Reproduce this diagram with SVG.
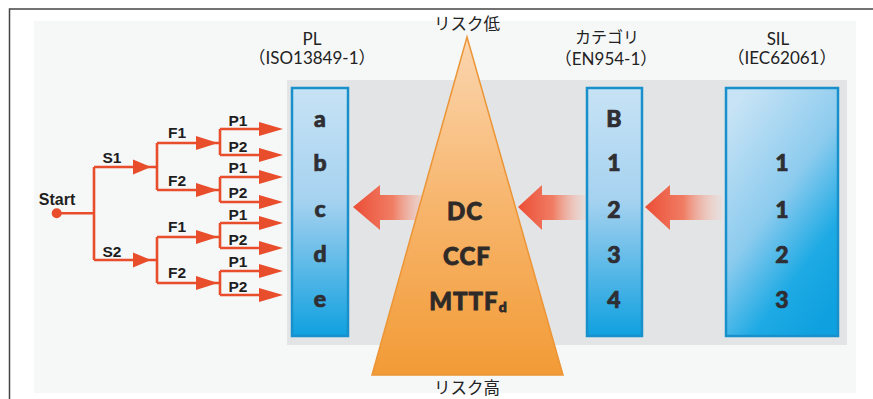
<svg xmlns="http://www.w3.org/2000/svg" xmlns:xlink="http://www.w3.org/1999/xlink" width="873" height="399" viewBox="0 0 873 399">
<style>
.hdr{font-family:"Lato","Noto Sans CJK JP",sans-serif;font-size:17px;fill:#222;text-anchor:middle}
.jp{font-family:"Noto Sans CJK JP",sans-serif;font-size:16.5px;fill:#222;text-anchor:middle}
.col{font-family:"Lato","Open Sans",sans-serif;font-weight:900;font-size:23px;fill:#2e2e33;stroke:#2e2e33;stroke-width:0.7;text-anchor:middle}
.tri{font-family:"Lato","Open Sans",sans-serif;font-weight:900;font-size:24px;letter-spacing:1px;fill:#2e2a28;stroke:#2e2a28;stroke-width:0.8;text-anchor:middle}
.lbl{font-family:"Liberation Sans",Arial,sans-serif;font-weight:bold;font-size:15.5px;fill:#1e1e1e;text-anchor:middle}
.ln{fill:none;stroke:#e84d2c;stroke-width:2.6}
.ah{fill:#e84d2c}
.box{stroke:#1890cb;stroke-width:2.5}
</style>
<defs>
<linearGradient id="gBlue" x1="0" y1="0" x2="0" y2="1">
<stop offset="0" stop-color="#c7e3f5"/>
<stop offset="0.45" stop-color="#a6d2f0"/>
<stop offset="1" stop-color="#10a0df"/>
</linearGradient>
<linearGradient id="gBlueD" x1="0.2" y1="0" x2="0.8" y2="1">
<stop offset="0" stop-color="#c7e3f5"/>
<stop offset="0.45" stop-color="#8ccbee"/>
<stop offset="0.75" stop-color="#1eaae4"/>
<stop offset="1" stop-color="#0ea0df"/>
</linearGradient>
<linearGradient id="gTri" x1="0" y1="0" x2="0" y2="1">
<stop offset="0" stop-color="#fbd6b0"/>
<stop offset="0.5" stop-color="#f7b56c"/>
<stop offset="1" stop-color="#f29b36"/>
</linearGradient>
<linearGradient id="gArr" x1="0" y1="0" x2="1" y2="0">
<stop offset="0" stop-color="#ec4d36"/>
<stop offset="0.5" stop-color="#f07d64"/>
<stop offset="1" stop-color="#f6cdbf" stop-opacity="0.2"/>
</linearGradient>
<path id="ahS" d="M0,0 L-18,-7.5 L-18,7.5 Z"/>
<path id="ahF" d="M0,0 L-22,-7 L-22,7 Z"/>
<path id="ahP" d="M0,0 L-24,-7 L-24,7 Z"/>
</defs>

<!-- frame and backgrounds -->
<path d="M9.5,399 V9 H873" fill="none" stroke="#444" stroke-width="1.5"/>
<rect x="34" y="21" width="822" height="372" fill="#f6f7f7"/>
<rect x="287" y="80" width="560" height="265" fill="#e2e4e6"/>

<g id="connectors">
<!-- big arrows -->
<polygon points="353,207 380,185 380,195 432,195 432,220 380,220 380,230" fill="url(#gArr)"/>
<polygon points="518,207 542,185 542,195 588,195 588,220 542,220 542,230" fill="url(#gArr)"/>
<polygon points="645,207 670,185 670,195 722,195 722,220 670,220 670,230" fill="url(#gArr)"/>

<!-- decision tree -->
<g id="tree">
<circle cx="56.7" cy="213.3" r="5" fill="#e84d2c"/>
<path class="ln" d="M57,213.3 H94 M94,167 V260 M94,167 H157 M94,260 H157"/>
<use href="#ahS" class="ah" x="151" y="167"/>
<use href="#ahS" class="ah" x="151" y="260"/>
<path class="ln" d="M157,143 V190 M157,143 H220 M157,190 H220 M157,237 V283 M157,237 H220 M157,283 H220"/>
<use href="#ahF" class="ah" x="218" y="143"/>
<use href="#ahF" class="ah" x="218" y="190"/>
<use href="#ahF" class="ah" x="218" y="237"/>
<use href="#ahF" class="ah" x="218" y="283"/>
<path class="ln" d="M220,129 V155 M220,129 H262 M220,155 H262 M220,177 V202 M220,177 H262 M220,202 H262 M220,223 V248 M220,223 H262 M220,248 H262 M220,271 V295 M220,271 H262 M220,295 H262"/>
<use href="#ahP" class="ah" x="283" y="129"/>
<use href="#ahP" class="ah" x="283" y="155"/>
<use href="#ahP" class="ah" x="283" y="177"/>
<use href="#ahP" class="ah" x="283" y="202"/>
<use href="#ahP" class="ah" x="283" y="223"/>
<use href="#ahP" class="ah" x="283" y="248"/>
<use href="#ahP" class="ah" x="283" y="271"/>
<use href="#ahP" class="ah" x="283" y="295"/>
<text class="lbl" x="57" y="205" style="font-size:16px">Start</text>
<text class="lbl" x="112" y="163">S1</text>
<text class="lbl" x="112" y="257">S2</text>
<text class="lbl" x="177" y="138">F1</text>
<text class="lbl" x="177" y="186">F2</text>
<text class="lbl" x="177" y="232">F1</text>
<text class="lbl" x="177" y="278">F2</text>
<text class="lbl" x="238" y="126">P1</text>
<text class="lbl" x="238" y="152">P2</text>
<text class="lbl" x="238" y="173">P1</text>
<text class="lbl" x="238" y="198">P2</text>
<text class="lbl" x="238" y="220">P1</text>
<text class="lbl" x="238" y="245">P2</text>
<text class="lbl" x="238" y="267">P1</text>
<text class="lbl" x="238" y="292">P2</text>
</g>
</g>

<!-- PL column -->
<g id="pl">
<text class="hdr" x="312" y="45">PL</text>
<text class="hdr" x="312" y="64">（ISO13849-1）</text>
<rect class="box" x="292" y="88" width="56" height="248" fill="url(#gBlue)"/>
<text class="col" x="320" y="127">a</text>
<text class="col" x="320" y="171">b</text>
<text class="col" x="320" y="217">c</text>
<text class="col" x="320" y="262">d</text>
<text class="col" x="320" y="307">e</text>
</g>

<!-- triangle -->
<g id="risk">
<text class="jp" x="467" y="30">リスク低</text>
<polygon points="467,37 563,375 372,375" fill="url(#gTri)" stroke="#eb9536" stroke-width="1.5"/>
<text class="tri" x="465" y="220">DC</text>
<text class="tri" x="467" y="265">CCF</text>
<text class="tri" x="468" y="310">MTTF<tspan font-size="14" dy="2" letter-spacing="0">d</tspan></text>
<text class="jp" x="467" y="394">リスク高</text>
</g>

<!-- Category column -->
<g id="category">
<text class="jp" x="607" y="42.5" style="font-size:16px">カテゴリ</text>
<text class="hdr" x="606" y="64.5">（EN954-1）</text>
<rect class="box" x="587" y="88" width="55" height="248" fill="url(#gBlue)"/>
<text class="col" x="614" y="127">B</text>
<text class="col" x="614" y="171">1</text>
<text class="col" x="614" y="218">2</text>
<text class="col" x="614" y="263">3</text>
<text class="col" x="614" y="308">4</text>
</g>

<!-- SIL column -->
<g id="sil">
<text class="hdr" x="778" y="45">SIL</text>
<text class="hdr" x="782" y="64">（IEC62061）</text>
<rect class="box" x="726" y="88" width="112" height="248" fill="url(#gBlueD)"/>
<text class="col" x="782" y="171">1</text>
<text class="col" x="782" y="218">1</text>
<text class="col" x="782" y="263">2</text>
<text class="col" x="782" y="308">3</text>
</g>
</svg>
